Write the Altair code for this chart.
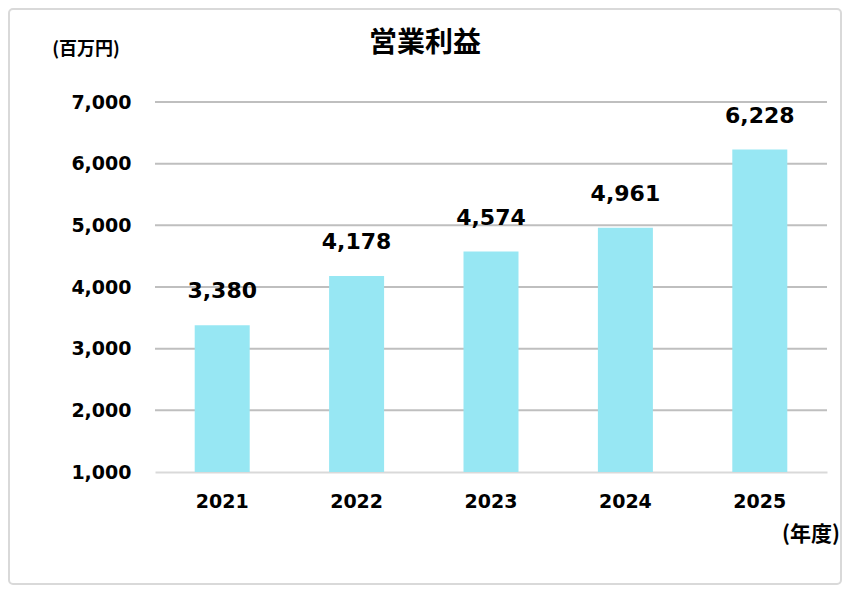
import altair as alt
import pandas as pd

years = ["2021", "2022", "2023", "2024", "2025"]
profits = [3380, 4178, 4574, 4961, 6228]
baseline = [1000, 1000, 1000, 1000, 1000]
y_ticks = [1000, 2000, 3000, 4000, 5000, 6000, 7000]
grid_ticks = [2000, 3000, 4000, 5000, 6000, 7000]

title_text = ["営業利益"]
unit_text = ["(百万円)"]
xunit_text = ["(年度)"]

df = pd.DataFrame({"year": years, "profit": profits, "base": baseline})

W, H = 672, 370
LEFT, TOP = 147, 94
TOTAL_W, TOTAL_H = 834, 577

xaxis = alt.Axis(labelAngle=0, labelFont="DejaVu Sans", labelFontWeight="bold",
                 labelFontSize=19, labelColor="#000000", labelPadding=20,
                 ticks=False, domain=True, domainColor="#D9D9D9", domainWidth=2)
xscale = alt.Scale(paddingInner=0, paddingOuter=0)
yscale = alt.Scale(domain=[1000, 7000], zero=False, nice=False)
yaxis = alt.Axis(values=y_ticks, format=",.0f", labelFont="DejaVu Sans",
                 labelFontWeight="bold", labelFontSize=19, labelColor="#000000",
                 labelPadding=24, ticks=False, domain=False, grid=False)

bars = alt.Chart(df).mark_bar(size=55, color="#97E7F3").encode(
    x=alt.X("year:N", sort=years, title=None, scale=xscale, axis=xaxis),
    y=alt.Y("profit:Q", scale=yscale, title=None, axis=yaxis),
    y2="base:Q",
)

grid = alt.Chart(pd.DataFrame({"g": grid_ticks})).mark_rule(color="#BFBFBF", strokeWidth=2).encode(
    y=alt.Y("g:Q", scale=yscale, title=None, axis=yaxis),
    x=alt.value(0), x2=alt.value(W),
)

labels = alt.Chart(df).mark_text(font="DejaVu Sans", fontWeight="bold", fontSize=22,
                                 color="#000000", baseline="bottom", dy=-22).encode(
    x=alt.X("year:N", sort=years, title=None, scale=xscale, axis=xaxis),
    y=alt.Y("profit:Q", scale=yscale, title=None, axis=yaxis),
    text=alt.Text("profit:Q", format=","),
)

cjk = "Noto Sans CJK JP"
title = alt.Chart(pd.DataFrame({"t": title_text})).mark_text(
    font=cjk, fontWeight="bold", fontSize=28, color="#000000", align="center", baseline="middle"
).encode(x=alt.value(425 - 155), y=alt.value(44 - 102), text="t:N")

unit = alt.Chart(pd.DataFrame({"t": unit_text})).mark_text(
    font=cjk, fontWeight="bold", fontSize=18, color="#000000", align="center", baseline="middle"
).encode(x=alt.value(86 - 155), y=alt.value(50 - 102), text="t:N")

xunit = alt.Chart(pd.DataFrame({"t": xunit_text})).mark_text(
    font=cjk, fontWeight="bold", fontSize=21, color="#000000", align="center", baseline="middle"
).encode(x=alt.value(811 - 155), y=alt.value(535 - 102), text="t:N")

border = alt.Chart(pd.DataFrame({"t": [1]})).mark_rect(
    fill=None, filled=False, stroke="#D9D9D9", strokeWidth=2, cornerRadius=4
).encode(x=alt.value(-LEFT + 1), x2=alt.value(TOTAL_W - LEFT - 1),
         y=alt.value(-TOP + 1), y2=alt.value(TOTAL_H - TOP - 1))

chart = alt.layer(grid, bars, labels, title, unit, xunit, border).properties(
    width=W, height=H,
    autosize=alt.AutoSizeParams(type="none"),
    padding={"left": LEFT, "top": TOP, "right": TOTAL_W - LEFT - W, "bottom": TOTAL_H - TOP - H},
    background="white",
).configure_view(stroke=None)

chart.save("out.html", embed_options={"renderer": "svg", "actions": False})
